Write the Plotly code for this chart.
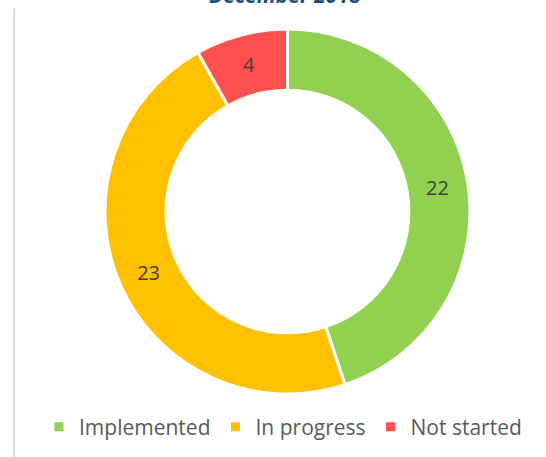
import plotly.graph_objects as go

labels = ["Implemented", "In progress", "Not started"]
values = [22, 23, 4]
colors = ["#92D050", "#FFC000", "#FF5050"]
title_text = "December 2018"

fig = go.Figure()
fig.add_trace(go.Pie(
    labels=labels,
    values=values,
    hole=0.665,
    sort=False,
    direction="clockwise",
    rotation=0,
    marker=dict(colors=colors, line=dict(color="white", width=3)),
    textinfo="value",
    textposition="inside",
    insidetextorientation="horizontal",
    textfont=dict(family="Open Sans", size=20, color="#404040"),
    domain=dict(x=[105/546, 470/546], y=[63/457, 428/457]),
    showlegend=True,
))

fig.add_annotation(
    text="<b><i>" + title_text + "</i></b>",
    x=285/546, xref="paper", y=1.0, yref="paper",
    xanchor="center", yanchor="bottom", yshift=-11,
    showarrow=False,
    font=dict(family="Open Sans", size=21, color="#1F4E79"),
)

fig.add_shape(type="line", xref="paper", yref="paper",
              x0=14/546, x1=14/546, y0=0, y1=1 - 9/457,
              line=dict(color="#D9D9D9", width=2))

fig.update_layout(
    width=546, height=457,
    margin=dict(l=0, r=0, t=0, b=0),
    paper_bgcolor="white",
    plot_bgcolor="white",
    legend=dict(
        orientation="h",
        x=283/546, xanchor="center",
        y=(457-427)/457, yanchor="middle",
        font=dict(family="Open Sans", size=21, color="#595959"),
        itemwidth=30,
        traceorder="normal",
    ),
)

fig.write_html("out.html")
